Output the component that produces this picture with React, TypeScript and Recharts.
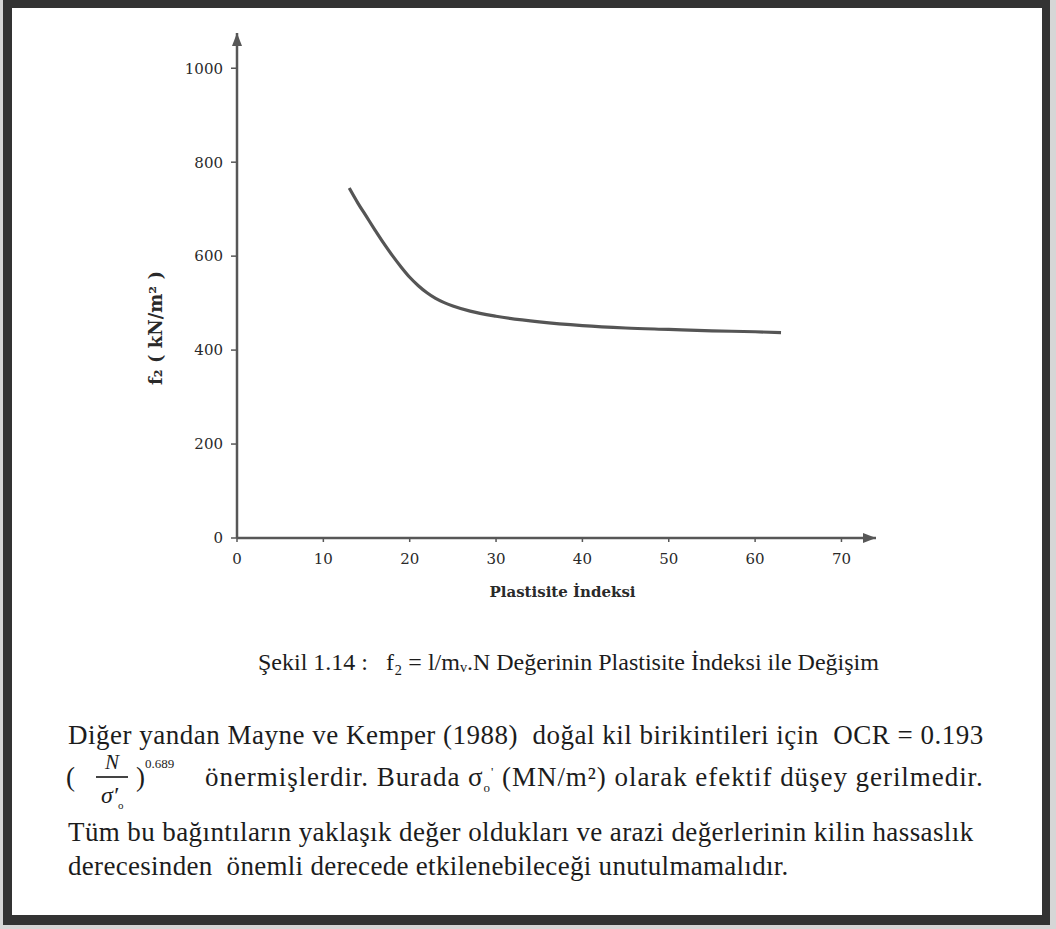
import React from 'react';
import { LineChart, Line, XAxis, YAxis, ReferenceDot } from 'recharts';

// Plasticity index (x) and f2 values (y)
const plasticityIndex = [13, 14, 15, 16, 17, 18, 19, 20, 21, 22, 23, 24, 25, 27, 30, 35, 40, 45, 50, 55, 60, 63];
const f2Values = [745, 713, 684, 655, 627, 601, 577, 555, 537, 522, 510, 501, 494, 483, 472, 460, 452, 447, 444, 441, 439, 437];
const xTicks = [0, 10, 20, 30, 40, 50, 60, 70];
const yTicks = [0, 200, 400, 600, 800, 1000];

const xAxisLabel = 'Plastisite İndeksi';
const yAxisLabel = 'f₂ ( kN/m² )';
const caption = 'Şekil 1.14 :   f₂ = l/mᵥ.N Değerinin Plastisite İndeksi ile Değişim';

const data = plasticityIndex.map((p, i) => ({ pi: p, f2: f2Values[i] }));

const AXIS = '#575757';
const SERIF = '"Liberation Serif", "Times New Roman", serif';
const TICKFONT = '"DejaVu Serif", serif';

const UpArrow = (props: any) => {
  const { cx, cy } = props;
  return <path d={`M${cx},${cy} L${cx - 5},${cy + 13} L${cx + 5},${cy + 13} Z`} fill={AXIS} />;
};
const RightArrow = (props: any) => {
  const { cx, cy } = props;
  return <path d={`M${cx},${cy} L${cx - 13},${cy - 5} L${cx - 13},${cy + 5} Z`} fill={AXIS} />;
};

const textStyle: React.CSSProperties = {
  position: 'absolute',
  fontFamily: SERIF,
  color: '#1c1c1c',
  whiteSpace: 'pre',
  lineHeight: 1,
};

const para: React.CSSProperties = { ...textStyle, fontSize: 27, letterSpacing: 0.5 };

export default function App() {
  return (
    <div style={{ position: 'absolute', left: 0, top: 0, width: 1056, height: 929, background: '#d6d6d6', overflow: 'hidden' }}>
      <div style={{ position: 'absolute', left: 3, top: 0, width: 1047, height: 925, background: '#333' }} />
      <div style={{ position: 'absolute', left: 12, top: 8, width: 1030, height: 907, background: '#fff' }} />

      <div style={{ position: 'absolute', left: 0, top: 0 }}>
        <LineChart
          width={1056}
          height={620}
          data={data}
          margin={{ top: 33, right: 180, bottom: 52, left: 177 }}
        >
          <XAxis
            type="number"
            dataKey="pi"
            domain={[0, 74]}
            ticks={xTicks}
            allowDataOverflow
            height={30}
            axisLine={{ stroke: AXIS, strokeWidth: 2.5 }}
            tickLine={{ stroke: AXIS, strokeWidth: 1.5 }}
            tickSize={4}
            tickMargin={11}
            tick={{ fill: '#2a2a2a', fontSize: 15, fontFamily: TICKFONT }}
            label={{ value: xAxisLabel, position: 'bottom', offset: 18, dx: 6, fill: '#2a2a2a', fontSize: 15, fontWeight: 'bold', fontFamily: TICKFONT }}
          />
          <YAxis
            type="number"
            domain={[0, 1075]}
            ticks={yTicks}
            allowDataOverflow
            width={60}
            axisLine={{ stroke: AXIS, strokeWidth: 2.5 }}
            tickLine={{ stroke: AXIS, strokeWidth: 1.5 }}
            tickSize={6}
            tickMargin={8}
            tick={{ fill: '#2a2a2a', fontSize: 15, fontFamily: TICKFONT }}
          />
          <ReferenceDot x={0} y={1075} r={0} shape={UpArrow} ifOverflow="visible" />
          <ReferenceDot x={74} y={0} r={0} shape={RightArrow} ifOverflow="visible" />
          <Line
            type="monotone"
            dataKey="f2"
            stroke="#555"
            strokeWidth={3.2}
            dot={false}
            isAnimationActive={false}
          />
        </LineChart>
      </div>

      <div
        style={{
          position: 'absolute',
          left: 155,
          top: 328,
          transform: 'translate(-50%, -50%) rotate(-90deg)',
          fontFamily: TICKFONT,
          fontWeight: 'bold',
          fontSize: 18,
          color: '#2a2a2a',
          whiteSpace: 'pre',
        }}
      >
        {yAxisLabel}
      </div>

      <div style={{ ...textStyle, left: 258, top: 650, fontSize: 24 }}>{caption}</div>

      <div style={{ ...para, left: 68, top: 722 }}>
        {'Diğer yandan Mayne ve Kemper (1988)  doğal kil birikintileri için  OCR = 0.193'}
      </div>

      <div style={{ ...para, left: 66, top: 764 }}>(</div>
      <div style={{ ...textStyle, left: 96, top: 752, fontSize: 21, fontStyle: 'italic', width: 32, textAlign: 'center' }}>N</div>
      <div style={{ position: 'absolute', left: 96, top: 776, width: 32, height: 1.5, background: '#444' }} />
      <div style={{ ...textStyle, left: 101, top: 783, fontSize: 24, fontStyle: 'italic' }}>
        {'σ′'}
        <sub style={{ fontSize: 11, fontStyle: 'normal' }}>o</sub>
      </div>
      <div style={{ ...para, left: 136, top: 764 }}>)</div>
      <div style={{ ...textStyle, left: 145, top: 757, fontSize: 13 }}>0.689</div>
      <div style={{ ...para, left: 205, top: 764, letterSpacing: 0.95 }}>
        {'önermişlerdir. Burada σ'}
        <sub style={{ fontSize: 13 }}>o</sub>
        <sup style={{ fontSize: 13 }}>'</sup>
        {' (MN/m²) olarak efektif düşey gerilmedir.'}
      </div>

      <div style={{ ...para, left: 68, top: 819, letterSpacing: 0.4 }}>
        {'Tüm bu bağıntıların yaklaşık değer oldukları ve arazi değerlerinin kilin hassaslık'}
      </div>
      <div style={{ ...para, left: 68, top: 853, letterSpacing: 0.3 }}>
        {'derecesinden  önemli derecede etkilenebileceği unutulmamalıdır.'}
      </div>
    </div>
  );
}
